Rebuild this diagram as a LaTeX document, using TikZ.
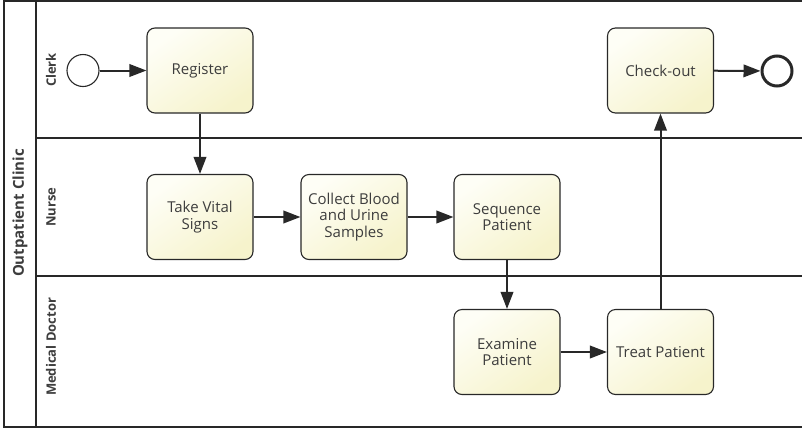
\documentclass[tikz,border=0pt]{standalone}
\usepackage{fontspec}
\setmainfont{Open Sans}
\usetikzlibrary{arrows.meta}
\definecolor{taskfill}{RGB}{246,243,204}
\definecolor{taskglow}{RGB}{254,254,246}
\definecolor{edge}{RGB}{40,40,40}
\begin{document}
\begin{tikzpicture}[x=1pt, y=-1pt, every node/.style={font=\fontsize{15}{16.5}\selectfont, text=edge!90}]
    \tikzset{task/.style={rectangle, rounded corners=8pt, draw=edge, line width=1.1pt,
                 minimum width=106pt, minimum height=85pt, align=center,
                 top color=taskglow, bottom color=taskfill, shading angle=35},
             flow/.style={-{Triangle[length=17pt, width=12.5pt]}, line width=2pt, draw=edge},
             lane/.style={font=\fontsize{13}{14}\selectfont\bfseries, rotate=90},
             event/.style={circle, draw=edge, minimum size=32pt, inner sep=0pt}}

    \useasboundingbox (0,0) rectangle (802,429);

    % pool and lanes
    \draw[edge, line width=1.8pt] (802,1) -- (4,1) -- (4,427) -- (802,427);
    \draw[edge, line width=1.4pt] (36,1) -- (36,427);
    \draw[edge, line width=1.4pt] (36,138) -- (802,138);
    \draw[edge, line width=1.4pt] (36,276) -- (802,276);

    \node[lane, font=\fontsize{15}{16.5}\selectfont\bfseries] (pool) at (20,213) {Outpatient Clinic};
    \node[lane] (clerk) at (51,70) {Clerk};
    \node[lane] (nurse) at (51,207) {Nurse};
    \node[lane] (doctor) at (51,347) {Medical Doctor};

    % events and tasks
    \node[event, line width=1.1pt] (start) at (83,70.5) {};
    \node[event, line width=3pt, minimum size=30pt] (stop) at (777,71) {};

    \node[task] (reg) at (200,70.5) {Register};
    \node[task] (check) at (660.5,70.5) {Check-out};
    \node[task] (vital) at (200,217) {Take Vital\\Signs};
    \node[task] (blood) at (354,217) {Collect Blood\\and Urine\\Samples};
    \node[task] (seq) at (507,217) {Sequence\\Patient};
    \node[task] (exam) at (507,352) {Examine\\Patient};
    \node[task] (treat) at (660.5,352) {Treat Patient};

    % sequence flows
    \draw[flow] (start) -- (reg);
    \draw[flow] (reg) -- (vital);
    \draw[flow] (vital) -- (blood);
    \draw[flow] (blood) -- (seq);
    \draw[flow] (seq) -- (exam);
    \draw[flow] (exam) -- (treat);
    \draw[flow] (treat) -- (check);
    \draw[flow] (check) -- (stop);
\end{tikzpicture}
\end{document}
